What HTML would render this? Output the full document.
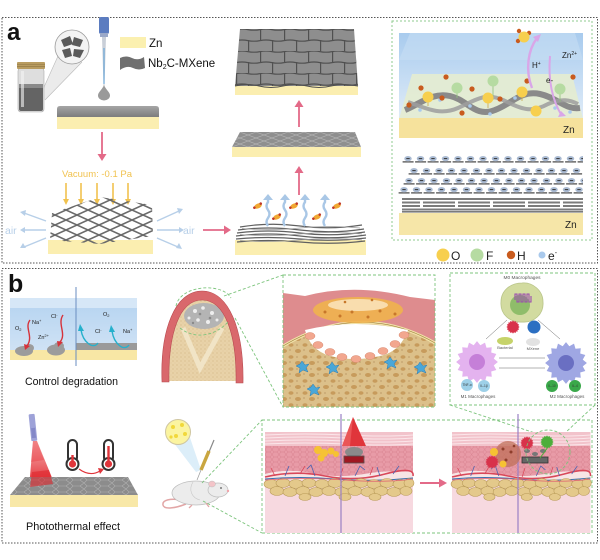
<!DOCTYPE html>
<html><head><meta charset="utf-8"><style>
html,body{margin:0;padding:0;background:#fff;}
svg{display:block;}
text{font-family:"Liberation Sans",Arial,sans-serif;}
</style></head><body>
<svg width="600" height="560" viewBox="0 0 600 560" xmlns="http://www.w3.org/2000/svg">
<defs>
 <pattern id="mesh" patternUnits="userSpaceOnUse" width="22" height="10">
  <path d="M0,10 L22,0 M0,0 L22,10" stroke="#6a6a6a" stroke-width="1.6"/>
 </pattern>
 <pattern id="meshL" patternUnits="userSpaceOnUse" width="16" height="6">
  <rect width="16" height="6" fill="#8f8f8f"/>
  <path d="M0,6 L16,0 M0,0 L16,6" stroke="#b4b4b4" stroke-width="0.6"/>
 </pattern>
 <pattern id="hexL" patternUnits="userSpaceOnUse" width="14" height="6">
  <rect width="14" height="6" fill="#8c8c8c"/>
  <path d="M0,3 L3,0 H10 L14,3 L10,6 H3 Z" stroke="#b0b0b0" stroke-width="0.6" fill="none"/>
 </pattern>
 <pattern id="tiles" patternUnits="userSpaceOnUse" x="236" y="29" width="24" height="22">
  <rect width="24" height="22" fill="#8e8e8e"/>
  <path d="M0,0.6 Q6,-0.6 12,0.6 T24,0.6 M0,11.6 Q6,10.4 12,11.6 T24,11.6 M0.6,0 V11 M12.6,11 V22" stroke="#505050" stroke-width="1.2" fill="none"/>
 </pattern>
 <pattern id="row" patternUnits="userSpaceOnUse" width="12.5" height="9">
  <rect x="0.6" y="6" width="11" height="1.7" fill="#7a7a7a"/>
  <ellipse cx="6" cy="3.6" rx="3.7" ry="2.6" fill="#a9bad2"/>
  <rect x="4.3" y="3.1" width="3.4" height="1" fill="#333"/>
 </pattern>
 <pattern id="cells" patternUnits="userSpaceOnUse" width="7" height="5">
  <rect width="7" height="5" fill="#e89ba7"/>
  <path d="M0,2.5 L2,0 H5 L7,2.5 L5,5 H2 Z" stroke="#d7808e" stroke-width="0.5" fill="none"/>
 </pattern>
 <pattern id="tan" patternUnits="userSpaceOnUse" width="14" height="12">
  <rect width="14" height="12" fill="#dcc08a"/>
  <ellipse cx="4" cy="3" rx="3" ry="2" fill="#c79b5c"/>
  <ellipse cx="11" cy="9" rx="2.5" ry="1.8" fill="#c79b5c"/>
  <circle cx="10" cy="2" r="0.6" fill="#a88050"/>
  <circle cx="3" cy="9" r="0.6" fill="#a88050"/>
 </pattern>
 <pattern id="bonet" patternUnits="userSpaceOnUse" width="4" height="4">
  <rect width="4" height="4" fill="#e8d2a8"/>
  <circle cx="1" cy="1" r="0.5" fill="#c9a874"/>
  <circle cx="3" cy="3" r="0.4" fill="#d4b78a"/>
 </pattern>
 <linearGradient id="blueg" x1="0" y1="0" x2="0" y2="1">
  <stop offset="0" stop-color="#a8cbee"/><stop offset="1" stop-color="#e0ecf8"/>
 </linearGradient>
 <linearGradient id="cdg" x1="0" y1="0" x2="0" y2="1">
  <stop offset="0" stop-color="#b4d3f0"/><stop offset="1" stop-color="#cfe2f5"/>
 </linearGradient>
 <linearGradient id="cone" x1="0" y1="0" x2="0" y2="1">
  <stop offset="0" stop-color="#f7b3b3"/><stop offset="1" stop-color="#e0242c"/>
 </linearGradient>
 <linearGradient id="greyTop" x1="0" y1="0" x2="0" y2="1">
  <stop offset="0" stop-color="#a5a5a5"/><stop offset="1" stop-color="#7d7d7d"/>
 </linearGradient>
 <polygon id="spiky" points="22,0 17.65,3.51 20.33,8.42 14.97,10 15.56,15.56 10,14.97 8.42,20.33 3.51,17.65 0,22 -3.51,17.65 -8.42,20.33 -10,14.97 -15.56,15.56 -14.97,10 -20.33,8.42 -17.65,3.51 -22,0 -17.65,-3.51 -20.33,-8.42 -14.97,-10 -15.56,-15.56 -10,-14.97 -8.42,-20.33 -3.51,-17.65 0,-22 3.51,-17.65 8.42,-20.33 10,-14.97 15.56,-15.56 14.97,-10 20.33,-8.42 17.65,-3.51"/>
 <g id="skin">
  <rect x="0" y="0" width="148" height="101" fill="#f7d9e0"/>
  <rect x="0" y="0" width="148" height="14" fill="#f2c3cb"/>
  <path d="M0,3 Q40,1 80,3 T148,3 M0,6 Q40,4 80,6 T148,6 M0,9 Q40,7 80,9 T148,9 M0,12 Q40,10 80,12 T148,12" stroke="#fbe6ea" stroke-width="1" fill="none"/>
  <path d="M0,14 H148 V40 Q120,38 100,42 Q70,47 40,40 Q20,37 0,42 Z" fill="url(#cells)"/>
  <path d="M0,42 Q20,37 40,40 Q70,47 100,42 Q120,38 148,40 V48 H0 Z" fill="#f7e5e5"/>
  <path d="M0,45 Q30,38 60,44 T120,42 T148,44" stroke="#d9485a" stroke-width="1.6" fill="none"/>
  <path d="M0,47 Q35,44 70,47 T148,46" stroke="#3a6fae" stroke-width="1.1" fill="none"/>
  <path d="M20,44 L24,34 M50,44 L46,33 L42,37 M90,44 L95,34 L100,38 M115,44 L112,35 M128,42 L134,34" stroke="#4a62b0" stroke-width="0.8" fill="none"/>
  <path d="M10,44 L6,36 M35,42 L40,34 M75,45 L78,36 M105,43 L108,35" stroke="#d9485a" stroke-width="0.8" fill="none"/>
  <g fill="#e4c98b" stroke="#b99b58" stroke-width="0.6">
   <ellipse cx="6" cy="52" rx="7" ry="4.5"/><ellipse cx="18" cy="51" rx="7" ry="4.5"/><ellipse cx="31" cy="52" rx="7" ry="4.5"/>
   <ellipse cx="44" cy="51" rx="7" ry="4.5"/><ellipse cx="57" cy="52" rx="7" ry="4.5"/><ellipse cx="70" cy="51" rx="7" ry="4.5"/>
   <ellipse cx="83" cy="52" rx="7" ry="4.5"/><ellipse cx="96" cy="51" rx="7" ry="4.5"/><ellipse cx="109" cy="52" rx="7" ry="4.5"/>
   <ellipse cx="122" cy="51" rx="7" ry="4.5"/><ellipse cx="135" cy="52" rx="7" ry="4.5"/><ellipse cx="144" cy="51" rx="5" ry="4.5"/>
   <ellipse cx="12" cy="59" rx="7" ry="4.5"/><ellipse cx="25" cy="60" rx="7" ry="4.5"/><ellipse cx="38" cy="59" rx="7" ry="4.5"/>
   <ellipse cx="51" cy="60" rx="7" ry="4.5"/><ellipse cx="64" cy="59" rx="7" ry="4.5"/><ellipse cx="77" cy="60" rx="7" ry="4.5"/>
   <ellipse cx="90" cy="59" rx="7" ry="4.5"/><ellipse cx="103" cy="60" rx="7" ry="4.5"/><ellipse cx="116" cy="59" rx="7" ry="4.5"/>
   <ellipse cx="129" cy="60" rx="7" ry="4.5"/><ellipse cx="141" cy="59" rx="6" ry="4.5"/>
   <ellipse cx="40" cy="65" rx="6" ry="3.5"/><ellipse cx="80" cy="65" rx="6" ry="3.5"/><ellipse cx="110" cy="65" rx="6" ry="3.5"/>
  </g>
  <path d="M0,48 Q40,45 80,48 T148,47" stroke="#e06070" stroke-width="0.7" fill="none"/>
 </g>
</defs>

<rect width="600" height="560" fill="#fff"/>

<!-- ============ PANEL A ============ -->
<rect x="2" y="17.5" width="595.5" height="245.5" fill="none" stroke="#555" stroke-width="1" stroke-dasharray="1.5,1.5"/>
<text x="7" y="40" font-size="24" font-weight="bold" fill="#111">a</text>

<!-- jar & magnifier -->
<polygon points="58,56 82,62 45,100 40,96" fill="#e6e6e6" opacity="0.8"/>
<line x1="58" y1="56" x2="40" y2="96" stroke="#bbb" stroke-width="0.6"/>
<line x1="82" y1="62" x2="45" y2="100" stroke="#bbb" stroke-width="0.6"/>
<rect x="18" y="68" width="26" height="44" rx="3" fill="#dedede" stroke="#aaa" stroke-width="0.6"/>
<rect x="19" y="85" width="24" height="26" rx="2" fill="#646464"/>
<rect x="19" y="84" width="24" height="4" fill="#8a8a8a"/>
<rect x="21" y="71" width="3" height="36" fill="#f4f4f4" opacity="0.6"/>
<rect x="17" y="62" width="28" height="7" rx="1" fill="#b99c60"/>
<path d="M17,64.5 H45 M17,66.7 H45" stroke="#8d7440" stroke-width="0.6"/>
<circle cx="72" cy="47" r="17" fill="#f3f3f3" stroke="#9a9a9a" stroke-width="0.8"/>
<g fill="#5a5a5a">
 <polygon points="61,40 70,36 73,44 64,47"/>
 <polygon points="74,37 83,40 80,47 72,45"/>
 <polygon points="62,50 70,48 72,56 65,58"/>
 <polygon points="74,49 84,50 80,58 73,56"/>
</g>
<!-- pipette -->
<rect x="99" y="17" width="10" height="17" rx="2" fill="#5b7cc0"/>
<rect x="100" y="33" width="8" height="4" fill="#9aa8c8"/>
<path d="M102,37 L103.5,86 L104.5,86 L106,37 Z" fill="#c9cfd8"/>
<line x1="104" y1="48" x2="104" y2="84" stroke="#5aa0d8" stroke-width="1"/>
<path d="M104,85 C102,90 98,92 98,95.5 A6,5 0 0 0 110,95.5 C110,92 106,90 104,85 Z" fill="#9a9a9a"/>

<!-- legend -->
<rect x="120" y="37" width="26" height="11" fill="#fbf0b0"/>
<text x="149" y="47" font-size="11.5" fill="#111">Zn</text>
<path d="M120,58 Q126,55 132,58 T144,57 L145,68 Q139,71 133,68 T120,70 Z" fill="#6f6f6f"/>
<text x="148" y="67" font-size="11.5" fill="#111">Nb<tspan font-size="7" dy="2">2</tspan><tspan dy="-2">C-MXene</tspan></text>

<!-- plate 1 -->
<path d="M57,117 V109 Q57,106 60,106 H156 Q159,106 159,109 V117 Z" fill="url(#greyTop)"/>
<rect x="57" y="117" width="102" height="12" fill="#fbeeb0"/>

<!-- pink arrow down -->
<line x1="102" y1="132" x2="102" y2="155" stroke="#e36a88" stroke-width="1.8"/>
<polygon points="97.5,154 106.5,154 102,161" fill="#e36a88"/>

<text x="62" y="177" font-size="9.5" fill="#f1c24f" textLength="70" lengthAdjust="spacingAndGlyphs">Vacuum:  -0.1 Pa</text>
<g stroke="#f1c24f" stroke-width="1.6">
 <line x1="66" y1="183" x2="66" y2="200"/><line x1="81" y1="183" x2="81" y2="200"/><line x1="97" y1="183" x2="97" y2="200"/><line x1="113" y1="183" x2="113" y2="200"/><line x1="128" y1="183" x2="128" y2="200"/>
</g>
<g fill="#f1c24f">
 <polygon points="63,199 69,199 66,205"/><polygon points="78,199 84,199 81,205"/><polygon points="94,199 100,199 97,205"/><polygon points="110,199 116,199 113,205"/><polygon points="125,199 131,199 128,205"/>
</g>

<!-- mesh -->
<rect x="48" y="240" width="105" height="14" fill="#fbeeb0"/>
<polygon points="52,213 100,197 152,205 153,236 100,244 50,240" fill="url(#mesh)"/>

<!-- air arrows -->
<g stroke="#b7cfe8" stroke-width="1.4" fill="none">
 <line x1="46" y1="221" x2="24" y2="213"/><line x1="46" y1="230" x2="24" y2="230"/><line x1="46" y1="238" x2="24" y2="247"/>
 <line x1="157" y1="221" x2="179" y2="211"/><line x1="157" y1="230" x2="180" y2="230"/><line x1="157" y1="238" x2="178" y2="247"/>
</g>
<g fill="#b7cfe8">
 <polygon points="20,212 26,210 25,216"/><polygon points="20,230 25,227 25,233"/><polygon points="20,248 23,243 26,248"/>
 <polygon points="183,209 177,208 179,214"/><polygon points="184,230 179,227 179,233"/><polygon points="182,249 176,248 179,243"/>
</g>
<text x="5" y="234" font-size="10.5" fill="#b7cfe8">air</text>
<text x="183" y="234" font-size="10.5" fill="#b7cfe8">air</text>
<line x1="203" y1="230" x2="225" y2="230" stroke="#e36a88" stroke-width="1.8"/>
<polygon points="224,225.5 224,234.5 231,230" fill="#e36a88"/>

<!-- layered sheet bottom middle -->
<rect x="235" y="240" width="131" height="15" fill="#fbeeb0"/>
<g stroke="#606060" stroke-width="1.2" fill="none">
 <path d="M240,227 Q270,222 300,226 T362,225"/>
 <path d="M238,230 Q268,226 300,230 T364,229"/>
 <path d="M237,233 Q268,229 300,233 T365,232"/>
 <path d="M236,236 Q268,232 300,236 T366,235"/>
 <path d="M236,239 Q268,236 300,239 T366,238"/>
 <path d="M237,242 Q268,239 300,242 T365,241"/>
</g>
<g stroke="#a0a0a0" stroke-width="0.7" fill="none">
 <path d="M242,228.5 Q270,231 300,228 T360,228"/>
 <path d="M240,234.5 Q270,237 300,234 T362,234"/>
 <path d="M240,240.5 Q270,243 300,240 T362,240"/>
</g>
<!-- blue vapor arrows -->
<g stroke="#a9c7e6" stroke-width="2.4" fill="none">
 <path d="M268,226 q-3,-4 0,-8 q3,-4 0,-8 q-3,-4 0,-8 v-3"/>
 <path d="M285,226 q-3,-4 0,-8 q3,-4 0,-8 q-3,-4 0,-8 v-3"/>
 <path d="M305,226 q-3,-4 0,-8 q3,-4 0,-8 q-3,-4 0,-8 v-3"/>
 <path d="M325,226 q-3,-4 0,-8 q3,-4 0,-8 q-3,-4 0,-8 v-3"/>
</g>
<g fill="#a9c7e6">
 <polygon points="263,200 273,200 268,194"/><polygon points="280,200 290,200 285,194"/><polygon points="300,200 310,200 305,194"/><polygon points="320,200 330,200 325,194"/>
</g>
<g>
 <g transform="translate(258,206) rotate(-25)"><ellipse rx="4" ry="2.4" fill="#f1a832"/><circle cx="-4" cy="0" r="1.3" fill="#c0392b"/><circle cx="3.5" cy="-1" r="1.3" fill="#c0392b"/></g>
 <g transform="translate(277,217) rotate(-25)"><ellipse rx="4" ry="2.4" fill="#f1a832"/><circle cx="-4" cy="0" r="1.3" fill="#c0392b"/><circle cx="3.5" cy="-1" r="1.3" fill="#c0392b"/></g>
 <g transform="translate(294,206) rotate(-25)"><ellipse rx="4" ry="2.4" fill="#f1a832"/><circle cx="-4" cy="0" r="1.3" fill="#c0392b"/><circle cx="3.5" cy="-1" r="1.3" fill="#c0392b"/></g>
 <g transform="translate(317,217) rotate(-25)"><ellipse rx="4" ry="2.4" fill="#f1a832"/><circle cx="-4" cy="0" r="1.3" fill="#c0392b"/><circle cx="3.5" cy="-1" r="1.3" fill="#c0392b"/></g>
 <g transform="translate(337,206) rotate(-25)"><ellipse rx="4" ry="2.4" fill="#f1a832"/><circle cx="-4" cy="0" r="1.3" fill="#c0392b"/><circle cx="3.5" cy="-1" r="1.3" fill="#c0392b"/></g>
</g>
<!-- pink up arrows -->
<line x1="299" y1="195" x2="299" y2="172" stroke="#e36a88" stroke-width="1.8"/>
<polygon points="294.5,173 303.5,173 299,166" fill="#e36a88"/>
<line x1="299" y1="127" x2="299" y2="106" stroke="#e36a88" stroke-width="1.8"/>
<polygon points="294.5,107 303.5,107 299,100" fill="#e36a88"/>

<!-- middle plate -->
<polygon points="240,132 355,132 361,147 232,147" fill="url(#meshL)"/>
<rect x="232" y="147" width="129" height="10" fill="#fbeeb0"/>

<!-- top tiled plate -->
<rect x="235" y="84" width="123" height="11" fill="#fbeeb0"/>
<polygon points="240,29 354,29 358,86 235,86" fill="url(#tiles)"/>
<path d="M235,86 Q247,83 259,86 T283,86 T307,86 T331,86 T358,86" stroke="#505050" stroke-width="1" fill="none"/>

<!-- right green box -->
<rect x="392" y="21" width="200" height="219" fill="none" stroke="#8fcb8f" stroke-width="1" stroke-dasharray="2,2"/>
<rect x="399" y="33" width="184" height="86" fill="url(#blueg)"/>
<polygon points="410,33 575,33 583,60 399,60" fill="#c6def4" opacity="0.6"/>
<polygon points="412,74 572,74 583,119 399,119" fill="#e4ecd0" opacity="0.9"/>
<rect x="399" y="118" width="184" height="20" fill="#f6e29c"/>
<text x="563" y="133" font-size="10" fill="#222">Zn</text>
<!-- ribbon -->
<path d="M405,110 C420,104 432,92 450,96 C468,100 475,118 495,110 C512,104 520,90 540,94 C558,98 565,110 580,108" stroke="#8a8a8a" stroke-width="6" fill="none"/>
<path d="M408,102 C425,108 440,116 458,108 C476,100 485,92 503,100 C520,108 530,114 548,104 C562,98 570,100 578,104" stroke="#9d9d9d" stroke-width="4" fill="none" opacity="0.85"/>
<g fill="#a9c9ec">
 <circle cx="420" cy="110" r="1.8"/><circle cx="440" cy="100" r="1.8"/><circle cx="470" cy="106" r="1.8"/><circle cx="490" cy="114" r="1.8"/><circle cx="515" cy="98" r="1.8"/><circle cx="555" cy="108" r="1.8"/><circle cx="570" cy="112" r="1.8"/>
</g>
<g stroke="#c9a84a" stroke-width="0.8">
 <line x1="428" y1="98" x2="428" y2="106"/><line x1="488" y1="98" x2="488" y2="108"/><line x1="522" y1="93" x2="522" y2="101"/>
</g>
<g stroke="#8fbf7a" stroke-width="0.8">
 <line x1="457" y1="89" x2="457" y2="98"/><line x1="493" y1="82" x2="493" y2="100"/><line x1="560" y1="91" x2="560" y2="102"/>
</g>
<g fill="#f7cf4e">
 <circle cx="428" cy="97" r="5.5"/><circle cx="488" cy="98" r="5.5"/><circle cx="522" cy="92" r="5.5"/><circle cx="536" cy="111" r="5.5"/>
</g>
<g fill="#b6dba2">
 <circle cx="457" cy="88" r="5.5"/><circle cx="493" cy="81" r="5.5"/><circle cx="560" cy="89" r="5.5"/>
</g>
<g fill="#c95b1e">
 <circle cx="409" cy="105" r="2.6"/><circle cx="421" cy="88" r="2.6"/><circle cx="446" cy="77" r="2.6"/><circle cx="472" cy="89" r="2.6"/><circle cx="442" cy="98" r="2.6"/><circle cx="500" cy="99" r="2.6"/><circle cx="462" cy="113" r="2.6"/><circle cx="527" cy="81" r="2.6"/><circle cx="573" cy="77" r="2.6"/>
 <circle cx="519" cy="31" r="2.2"/><circle cx="529" cy="33" r="2.2"/><circle cx="518" cy="41" r="2.2"/>
</g>
<circle cx="524" cy="37" r="5.5" fill="#f7cf4e"/>
<path d="M532,88 C525,70 528,50 537,38" stroke="#d9a6e8" stroke-width="2.4" fill="none"/>
<polygon points="533,37 541,34 538,42" fill="#d9a6e8"/>
<path d="M550,56 C548,80 552,100 562,116" stroke="#d9a6e8" stroke-width="2" fill="none"/>
<polygon points="558,117 566,116 561,111" fill="#d9a6e8"/>
<text x="532" y="68" font-size="8" fill="#222">H<tspan font-size="5" dy="-3">+</tspan></text>
<text x="562" y="58" font-size="8" fill="#222">Zn<tspan font-size="5" dy="-3">2+</tspan></text>
<text x="546" y="83" font-size="8" fill="#222">e-</text>

<!-- layered rows -->
<g transform="translate(402,155)"><rect width="181" height="9" fill="url(#row)"/></g>
<g transform="translate(408,167)"><rect width="175" height="9" fill="url(#row)"/></g>
<g transform="translate(403,177)"><rect width="180" height="9" fill="url(#row)"/></g>
<g transform="translate(398,186)"><rect width="185" height="9" fill="url(#row)"/></g>
<g fill="#7b7b7b">
 <rect x="402" y="198" width="181" height="2"/><rect x="402" y="201.5" width="181" height="2"/><rect x="402" y="205" width="181" height="2"/><rect x="402" y="208.5" width="181" height="2"/><rect x="402" y="211" width="181" height="1.6"/>
</g>
<g fill="#fff">
 <rect x="420" y="201" width="3" height="7"/><rect x="455" y="201" width="3" height="7"/><rect x="490" y="201" width="3" height="7"/><rect x="525" y="201" width="3" height="7"/><rect x="560" y="201" width="3" height="7"/>
</g>
<rect x="399" y="213" width="184" height="22" fill="#f6e6a8"/>
<text x="565" y="228" font-size="10" fill="#222">Zn</text>

<!-- element legend -->
<circle cx="443" cy="255" r="6.5" fill="#f7cf4e"/><text x="451" y="260" font-size="12" fill="#222">O</text>
<circle cx="477" cy="255" r="6.5" fill="#b6dba2"/><text x="486" y="260" font-size="12" fill="#222">F</text>
<circle cx="511" cy="255" r="4.2" fill="#c95b1e"/><text x="517" y="260" font-size="12" fill="#222">H</text>
<circle cx="542" cy="255" r="3.5" fill="#a9c9ec"/><text x="548" y="260" font-size="12" fill="#222">e<tspan font-size="7" dy="-5">-</tspan></text>

<!-- ============ PANEL B ============ -->
<rect x="2" y="268.5" width="595.5" height="274.5" fill="none" stroke="#555" stroke-width="1" stroke-dasharray="1.5,1.5"/>
<text x="8" y="292" font-size="25" font-weight="bold" fill="#111">b</text>

<!-- control degradation -->
<rect x="10" y="298" width="127" height="52" fill="url(#cdg)"/>
<rect x="10" y="298" width="127" height="10" fill="#d6e7f7"/>
<rect x="10" y="350" width="127" height="10" fill="#f8e7a5"/>
<rect x="76" y="343" width="61" height="7" fill="#9a9a9a"/>
<g fill="#9c9c9c">
 <ellipse cx="24" cy="351" rx="9" ry="5"/><ellipse cx="29" cy="348" rx="5" ry="4"/>
 <ellipse cx="56" cy="350" rx="9" ry="5.5"/><ellipse cx="59" cy="346" rx="5" ry="4"/>
</g>
<line x1="76" y1="287" x2="76" y2="366" stroke="#6a8ec0" stroke-width="1"/>
<path d="M30,320 C24,328 34,336 27,346" stroke="#d6323a" stroke-width="1.4" fill="none"/>
<polygon points="24,344 30,346 25,350" fill="#d6323a"/>
<path d="M63,315 C57,324 67,334 60,342" stroke="#d6323a" stroke-width="1.4" fill="none"/>
<polygon points="57,341 63,342 58,347" fill="#d6323a"/>
<path d="M98,343 C93,350 83,342 81,330" stroke="#26b0cc" stroke-width="1.4" fill="none"/>
<polygon points="78,331 84,331 80,324" fill="#26b0cc"/>
<path d="M129,345 C124,352 114,344 112,331" stroke="#26b0cc" stroke-width="1.4" fill="none"/>
<polygon points="109,332 115,332 111,325" fill="#26b0cc"/>
<g font-size="5.5" fill="#222">
 <text x="15" y="330">O<tspan font-size="4" dy="1">2</tspan></text>
 <text x="32" y="324">Na<tspan font-size="4" dy="-2">+</tspan></text>
 <text x="38" y="339">Zn<tspan font-size="4" dy="-2">2+</tspan></text>
 <text x="51" y="318">Cl<tspan font-size="4" dy="-2">-</tspan></text>
 <text x="103" y="316">O<tspan font-size="4" dy="1">2</tspan></text>
 <text x="95" y="333">Cl<tspan font-size="4" dy="-2">-</tspan></text>
 <text x="123" y="333">Na<tspan font-size="4" dy="-2">+</tspan></text>
</g>
<text x="25" y="385" font-size="10.8" fill="#111" textLength="93" lengthAdjust="spacingAndGlyphs">Control degradation</text>

<!-- bone -->
<path d="M169,381 C168,335 179,300 202,300 C225,300 237,335 236,381 Z" fill="url(#bonet)"/>
<path d="M183,328 L200,368 L222,328" stroke="#f1e4c6" stroke-width="5" fill="none"/>
<ellipse cx="204" cy="316" rx="20" ry="13" fill="#b4b4b4"/>
<g fill="#eeeeee"><circle cx="195" cy="311" r="2"/><circle cx="203" cy="308" r="1.8"/><circle cx="212" cy="313" r="2"/><circle cx="198" cy="320" r="1.8"/><circle cx="208" cy="322" r="2"/><circle cx="217" cy="320" r="1.5"/><circle cx="189" cy="318" r="1.5"/></g>
<g fill="#8a8a8a"><circle cx="200" cy="314" r="1.3"/><circle cx="210" cy="318" r="1.3"/><circle cx="193" cy="323" r="1.2"/></g>
<path d="M162,382 C160,330 175,291 202,291 C229,291 244,330 243,383 L236,383 C237,335 225,300 202,300 C179,300 168,335 169,382 Z" fill="#d9686c" stroke="#b84a50" stroke-width="0.6"/>
<g stroke="#7cc47c" stroke-width="0.9" fill="none" stroke-dasharray="3,2">
 <path d="M176,306 C180,285 222,282 231,298"/>
 <path d="M180,328 C195,340 215,336 228,322"/>
 <line x1="224" y1="296" x2="283" y2="275"/>
 <line x1="235" y1="318" x2="283" y2="407"/>
</g>

<!-- bone zoom box -->
<rect x="283" y="275" width="152" height="132" fill="#fff"/>
<path d="M283,293 L305,296 Q355,283 410,297 L435,300 L435,343 Q360,300 283,346 Z" fill="#de8c8e"/>
<path d="M283,346 Q360,300 435,343 L435,407 L283,407 Z" fill="url(#tan)"/>
<path d="M283,346 Q360,300 435,343" stroke="#f1e2a8" stroke-width="3" fill="none"/>
<path d="M283,346 Q360,300 435,343" stroke="#a08040" stroke-width="0.6" fill="none"/>
<path d="M305,330 Q355,318 408,330 Q400,352 380,356 Q355,362 330,356 Q310,350 305,330 Z" fill="#fff"/>
<g fill="#f2a78f" stroke="#d98870" stroke-width="0.5">
 <ellipse cx="310" cy="336" rx="5" ry="3.5"/><ellipse cx="318" cy="345" rx="5" ry="3.5"/><ellipse cx="330" cy="352" rx="5" ry="3.5"/><ellipse cx="342" cy="357" rx="5" ry="3.5"/><ellipse cx="356" cy="359" rx="5" ry="3.5"/><ellipse cx="370" cy="356" rx="5" ry="3.5"/><ellipse cx="383" cy="351" rx="5" ry="3.5"/><ellipse cx="395" cy="344" rx="5" ry="3.5"/><ellipse cx="404" cy="335" rx="5" ry="3.5"/>
</g>
<ellipse cx="358" cy="310" rx="45" ry="13" fill="#f0b34e" opacity="0.9"/>
<ellipse cx="358" cy="305" rx="30" ry="6" fill="#fbe8c4" opacity="0.8"/>
<g fill="#c7772a"><circle cx="325" cy="312" r="1.5"/><circle cx="340" cy="316" r="1.5"/><circle cx="352" cy="312" r="1.5"/><circle cx="368" cy="317" r="1.5"/><circle cx="380" cy="311" r="1.5"/><circle cx="395" cy="314" r="1.5"/><circle cx="345" cy="302" r="1.3"/><circle cx="372" cy="300" r="1.3"/></g>
<g fill="#4aa7d8" stroke="#2d7bb0" stroke-width="0.5">
 <polygon points="302,361 305,365 309,364 306,368 308,372 303,370 299,373 300,368 296,366 300,364"/>
 <polygon points="332,362 335,366 339,365 336,369 338,373 333,371 329,374 330,369 326,367 330,365"/>
 <polygon points="390,357 393,361 397,360 394,364 396,368 391,366 387,369 388,364 384,362 388,360"/>
 <polygon points="420,362 423,366 427,365 424,369 426,373 421,371 417,374 418,369 414,367 418,365"/>
 <polygon points="313,384 316,388 320,387 317,391 319,395 314,393 310,396 311,391 307,389 311,387"/>
</g>
<rect x="283" y="275" width="152" height="132" fill="none" stroke="#7cc47c" stroke-width="0.9" stroke-dasharray="3,2"/>

<!-- macrophage box -->
<rect x="450" y="273" width="145" height="132" fill="none" stroke="#7cc47c" stroke-width="0.9" stroke-dasharray="3,2"/>
<text x="522" y="279" font-size="4.8" fill="#555" text-anchor="middle">M0 Macrophages</text>
<path d="M522,283 C532,282 543,290 543,302 C544,314 534,323 522,322 C510,323 500,314 501,302 C501,290 511,283 522,283 Z" fill="#d2dba0" stroke="#b8c488" stroke-width="0.8"/>
<circle cx="520" cy="305" r="10" fill="#8fbd6a"/>
<path d="M515,300 v-6 h2 v8 h2 v-8 h2 v8 h2 v-8 h2 v8 h2 v-8 h2 v8 h2 v-6" stroke="#9b4bb0" stroke-width="1.1" fill="none"/>
<use href="#spiky" transform="translate(513,327) scale(0.3)" fill="#d8324a"/>
<circle cx="534" cy="327" r="6.5" fill="#2b6fc2"/>
<ellipse cx="505" cy="341" rx="8" ry="4" fill="#c6d36a"/>
<ellipse cx="533" cy="342" rx="7" ry="4" fill="#e2e2e2"/>
<text x="505" y="349" font-size="4" fill="#555" text-anchor="middle">Bacterial</text>
<text x="533" y="350" font-size="4" fill="#555" text-anchor="middle">MXene</text>
<use href="#spiky" transform="translate(477,362) scale(0.95)" fill="#e4b3ef"/>
<circle cx="477" cy="362" r="8" fill="#c57fd8"/>
<use href="#spiky" transform="translate(566,363) scale(0.95)" fill="#9fa7e3"/>
<circle cx="566" cy="363" r="8" fill="#6a6fc2"/>
<g stroke="#666" stroke-width="0.5">
 <line x1="507" y1="320" x2="486" y2="339"/><line x1="538" y1="320" x2="560" y2="339"/>
 <line x1="499" y1="358" x2="545" y2="358"/><line x1="545" y1="368" x2="499" y2="368"/>
</g>
<circle cx="467" cy="385" r="6" fill="#9dd0e8"/>
<circle cx="484" cy="386" r="6" fill="#9dd0e8"/>
<circle cx="552" cy="386" r="6" fill="#3aa84a"/>
<circle cx="575" cy="386" r="6" fill="#3aa84a"/>
<g font-size="3.2" fill="#333" text-anchor="middle">
 <text x="467" y="386">TNF-α</text><text x="484" y="387">IL-1β</text><text x="552" y="387">IL-10</text><text x="575" y="387">IL-4</text>
</g>
<text x="478" y="398" font-size="4.5" fill="#555" text-anchor="middle">M1 Macrophages</text>
<text x="567" y="398" font-size="4.5" fill="#555" text-anchor="middle">M2 Macrophages</text>

<!-- photothermal -->
<polygon points="33,441 37,441 55,485 29,488" fill="url(#cone)"/>
<polygon points="25,477 128,477 138,495 10,495" fill="url(#hexL)"/>
<rect x="10" y="495" width="128" height="12" fill="#f8e8a8"/>
<polygon points="33,441 37,441 44,460 31,462" fill="#e83a40" opacity="0.4"/>
<polygon points="30,487 53,484 49,470 32,472" fill="#e0242c" opacity="0.6"/>
<rect x="30" y="414" width="6" height="27" rx="1" fill="#9ea2d8" transform="rotate(-6 33 428)"/>
<rect x="31" y="428" width="4" height="10" fill="#8488c8" transform="rotate(-6 33 428)"/>
<g>
 <rect x="68" y="440" width="9" height="22" rx="4.5" fill="#fff" stroke="#333" stroke-width="2"/>
 <circle cx="72.5" cy="464" r="6" fill="#fff" stroke="#333" stroke-width="2"/>
 <circle cx="72.5" cy="464" r="3.6" fill="#e0353b"/>
 <rect x="71.3" y="455" width="2.4" height="8" fill="#e0353b"/>
 <rect x="104" y="440" width="9" height="22" rx="4.5" fill="#fff" stroke="#333" stroke-width="2"/>
 <circle cx="108.5" cy="464" r="6" fill="#fff" stroke="#333" stroke-width="2"/>
 <circle cx="108.5" cy="464" r="3.6" fill="#e0353b"/>
 <rect x="107.3" y="446" width="2.4" height="17" fill="#e0353b"/>
</g>
<path d="M79,469 Q90,477 100,471" stroke="#e0353b" stroke-width="1.2" fill="none"/>
<polygon points="98,468 104,469 100,474" fill="#e0353b"/>
<text x="26" y="530" font-size="10.8" fill="#111" textLength="94" lengthAdjust="spacingAndGlyphs">Photothermal effect</text>

<!-- mouse & injection -->
<polygon points="170,438 186,426 201,470 196,472" fill="#d8ecf8" opacity="0.9"/>
<circle cx="178" cy="432" r="12.5" fill="#fbf4a0" stroke="#cfc6a0" stroke-width="1"/>
<g fill="#f1d83a"><circle cx="173" cy="427" r="2"/><circle cx="182" cy="425" r="2"/><circle cx="176" cy="436" r="2"/><circle cx="185" cy="434" r="2"/><circle cx="171" cy="437" r="1.6"/></g>
<line x1="214" y1="440" x2="209" y2="452" stroke="#888" stroke-width="1.2"/>
<line x1="209" y1="451" x2="201" y2="470" stroke="#c9a640" stroke-width="3.5"/>
<line x1="201" y1="470" x2="197" y2="480" stroke="#999" stroke-width="0.7"/>
<path d="M183,500 C170,498 162,500 163,505 C164,510 176,508 186,504" stroke="#e2a6a6" stroke-width="1.5" fill="none"/>
<ellipse cx="196" cy="493" rx="24" ry="12" fill="#ececec" stroke="#bdbdbd" stroke-width="0.7"/>
<ellipse cx="218" cy="490" rx="10" ry="7" fill="#ececec" stroke="#bdbdbd" stroke-width="0.7"/>
<ellipse cx="212" cy="484" rx="3.5" ry="3" fill="#f3c4c8" stroke="#bdbdbd" stroke-width="0.5"/>
<circle cx="221" cy="488" r="0.9" fill="#555"/>
<circle cx="228" cy="491" r="1.2" fill="#f0a4aa"/>
<path d="M192,505 l-3,3 M206,503 l3,4" stroke="#e2a6a6" stroke-width="1.3"/>
<path d="M193,482 C188,490 192,498 200,500" stroke="#c8c8c8" stroke-width="0.6" fill="none"/>
<g stroke="#7cc47c" stroke-width="0.9" stroke-dasharray="3,2" fill="none">
 <line x1="202" y1="483" x2="262" y2="420"/>
 <line x1="203" y1="501" x2="262" y2="533"/>
 <line x1="450" y1="405" x2="535" y2="433"/>
 <line x1="595" y1="405" x2="565" y2="433"/>
</g>

<!-- skin panels -->
<rect x="262" y="420" width="330" height="113" fill="none" stroke="#7cc47c" stroke-width="0.9" stroke-dasharray="3,2"/>
<use href="#skin" transform="translate(265,432)"/>
<use href="#skin" transform="translate(452,432) scale(0.935,1)"/>
<line x1="341" y1="414" x2="341" y2="533" stroke="#9a80c4" stroke-width="1.2"/>
<line x1="518" y1="414" x2="518" y2="533" stroke="#9a80c4" stroke-width="1.2"/>
<!-- panel1 laser -->
<polygon points="353,417 342,446 366,446" fill="#e0353b"/>
<polygon points="353,417 342,446 350,446" fill="#f06a6a" opacity="0.6"/>
<ellipse cx="354" cy="452" rx="9" ry="5" fill="#8a8a8a"/>
<rect x="344" y="456" width="20" height="7" fill="#a01822" stroke="#555" stroke-width="0.8"/>
<g fill="#f6c233"><circle cx="318" cy="450" r="4"/><circle cx="324" cy="453" r="4"/><circle cx="331" cy="451" r="3.5"/><circle cx="321" cy="458" r="3.5"/><circle cx="336" cy="454" r="3"/></g>
<!-- panel2 -->
<circle cx="508" cy="454" r="13" fill="#c0705a" opacity="0.75"/>
<g fill="#8e3e2c"><circle cx="503" cy="449" r="1.5"/><circle cx="511" cy="452" r="1.5"/><circle cx="506" cy="460" r="1.5"/><circle cx="514" cy="446" r="1.3"/></g>
<use href="#spiky" transform="translate(527,443) scale(0.3)" fill="#d8324a"/>
<use href="#spiky" transform="translate(492,462) scale(0.3)" fill="#d8324a"/>
<use href="#spiky" transform="translate(547,442) scale(0.3)" fill="#4cae3a"/>
<circle cx="494" cy="452" r="4" fill="#f6c233"/><circle cx="503" cy="464" r="3.5" fill="#f6c233"/>
<g fill="#777"><ellipse cx="527" cy="451" rx="3" ry="2"/><ellipse cx="535" cy="454" rx="3" ry="2"/><ellipse cx="543" cy="451" rx="3" ry="2"/></g>
<rect x="522" y="457" width="26" height="6" fill="#666" stroke="#333" stroke-width="0.8"/>
<path d="M540,458 L548,447" stroke="#4cae3a" stroke-width="1"/>
<circle cx="548" cy="452" r="22" fill="none" stroke="#7cc47c" stroke-width="0.9" stroke-dasharray="3,2"/>
<!-- arrow between skin panels -->
<line x1="420" y1="483" x2="440" y2="483" stroke="#e36a88" stroke-width="2"/>
<polygon points="439,478.5 439,487.5 447,483" fill="#e36a88"/>
</svg>
</body></html>
